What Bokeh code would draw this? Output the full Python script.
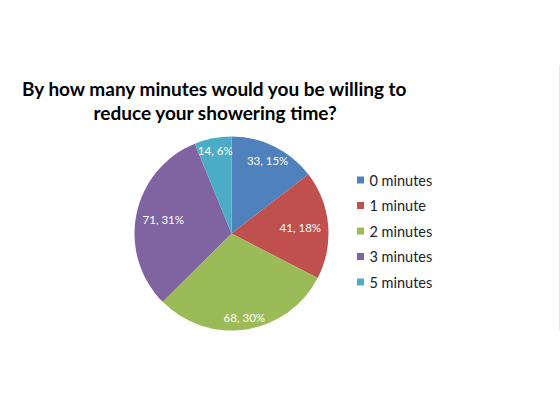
import math
from bokeh.plotting import figure
from bokeh.models import Range1d, ColumnDataSource
from bokeh.core.properties import value
from bokeh.embed import file_html
from bokeh.resources import INLINE

categories = ["0 minutes", "1 minute", "2 minutes", "3 minutes", "5 minutes"]
counts = [33, 41, 68, 71, 14]
colors = ["#4F81BD", "#C0504D", "#9BBB59", "#8064A2", "#4BACC6"]
title_lines = ["By how many minutes would you be willing to", "reduce your showering time?"]

W, H = 560, 420
p = figure(width=W, height=H, output_backend="svg", toolbar_location=None,
           x_range=Range1d(0, W), y_range=Range1d(0, H), min_border=0)
p.axis.visible = False
p.grid.visible = False
p.outline_line_color = None
p.background_fill_color = "white"
p.border_fill_color = "white"

def Y(y):
    return H - y

cx, cy, R = 231, 233, 97
total = sum(counts)
starts, ends, lx, ly, labels = [], [], [], [], []
cum = 0.0
for c in counts:
    f0 = cum / total
    cum += c
    f1 = cum / total
    starts.append(math.pi / 2 - 2 * math.pi * f0)
    ends.append(math.pi / 2 - 2 * math.pi * f1)
    th = 2 * math.pi * (f0 + f1) / 2  # clockwise from top
    d = R - 12 - 16 * math.sin(th) ** 2
    lx.append(cx + d * math.sin(th))
    ly.append(Y(cy - d * math.cos(th)))
    labels.append(f"{c}, {round(100 * c / total)}%")

src = ColumnDataSource(dict(start=starts, end=ends, color=colors,
                            lx=lx, ly=ly, label=labels))
p.wedge(x=cx, y=Y(cy), radius=R, start_angle="start", end_angle="end",
        direction="clock", fill_color="color", line_color=None, source=src)
p.text(x="lx", y="ly", text="label", source=src, text_color="white",
       text_font=value("Lato"), text_font_size="11.5px",
       text_align="center", text_baseline="middle")

# Legend
ly0, dy = 179.5, 25.5
leg_y = [Y(ly0 + i * dy) for i in range(len(categories))]
lsrc = ColumnDataSource(dict(y=leg_y, color=colors, cat=categories))
p.scatter(x=360, y="y", marker="square", size=7, fill_color="color",
          line_color=None, source=lsrc)
p.text(x=369, y="y", text="cat", source=lsrc, text_color="#222222",
       text_font=value("Lato"), text_font_size="14.5px",
       text_align="left", text_baseline="middle")

# Title
p.text(x=[215, 215], y=[Y(88), Y(112)], text=title_lines, text_color="black",
       text_font=value("Lato"), text_font_style="bold", text_font_size="19px",
       text_align="center", text_baseline="middle")

# Faint right edge line
p.segment(x0=[559], y0=[Y(65)], x1=[559], y1=[Y(330)], line_color="#e4e4e4", line_width=1)

open("out.html", "w").write(file_html(p, INLINE))
